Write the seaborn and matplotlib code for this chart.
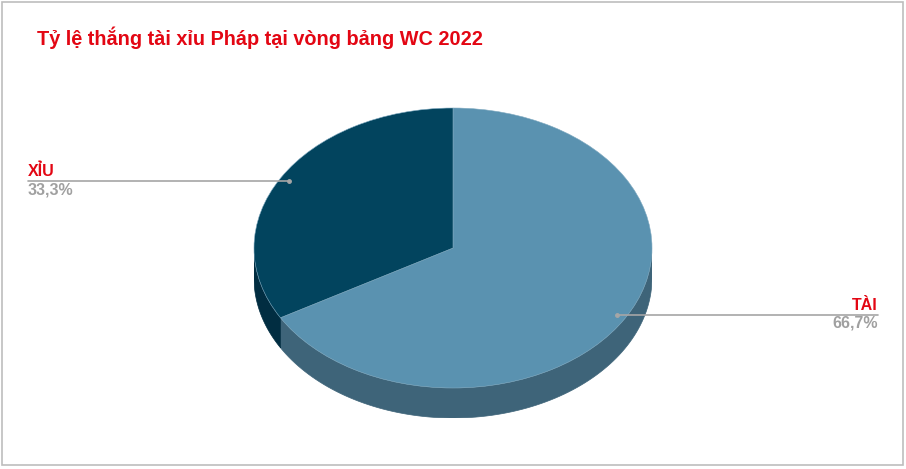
import numpy as np
import seaborn as sns
import matplotlib.pyplot as plt
from matplotlib.patches import Polygon, Rectangle

sns.set_theme(style="white")
plt.rcParams['font.family'] = ['Liberation Sans', 'DejaVu Sans']

title = "Tỷ lệ thắng tài xỉu Pháp tại vòng bảng WC 2022"
labels = ["TÀI", "XỈU"]
values = [66.7, 33.3]
pct_text = ["66,7%", "33,3%"]
top_colors = ["#5A92B0", "#02445E"]
side_colors = ["#3E6479", "#012D41"]

W, H = 906, 469
cx, cy, rx, ry, depth = 453, 248, 199, 140, 30
d = depth / ry

fig = plt.figure(figsize=(W / 100, H / 100), dpi=100)
bg = fig.add_axes([0, 0, 1, 1])
bg.set_xlim(0, W)
bg.set_ylim(H, 0)
bg.axis("off")
bg.add_patch(Rectangle((2, 2), 901, 463, fill=False, edgecolor="#BDBDBD", lw=1.2))

ax = fig.add_axes([(cx - rx) / W, (H - (cy + ry + depth)) / H, 2 * rx / W, (2 * ry + depth) / H])

# angles of the slices (clockwise from 12 o'clock)
total = sum(values)
starts, ends = [], []
a = 90.0
for v in values:
    starts.append(a - 360 * v / total)
    ends.append(a)
    a -= 360 * v / total

# visible outer wall (lower half of the ellipse)
for s, e, col in zip(starts, ends, side_colors):
    for off in (0, 360, -360):
        lo = max(s + off, 180)
        hi = min(e + off, 360)
        if hi <= lo:
            continue
        th = np.radians(np.linspace(lo, hi, 100))
        top = np.column_stack([np.cos(th), np.sin(th)])
        bot = np.column_stack([np.cos(th[::-1]), np.sin(th[::-1]) - d])
        ax.add_patch(Polygon(np.vstack([top, bot]), closed=True, facecolor=col,
                             edgecolor=col, lw=0.5))

wedges, _ = ax.pie(values, colors=top_colors, startangle=90, counterclock=False,
                   radius=1, frame=True,
                   wedgeprops=dict(edgecolor="#7FA9C0", linewidth=0.4))
ax.set_aspect("auto")
ax.set_xlim(-1, 1)
ax.set_ylim(-1 - d, 1)
ax.axis("off")

# overlay for leader lines and labels
ov = fig.add_axes([0, 0, 1, 1])
ov.set_xlim(0, W)
ov.set_ylim(H, 0)
ov.axis("off")
ov.patch.set_alpha(0)

red = "#E30613"
label_x = {"TÀI": 878, "XỈU": 28}
for s, e, lab, pct in zip(starts, ends, labels, pct_text):
    mid = np.radians((s + e) / 2)
    px = cx + 0.95 * rx * np.cos(mid)
    py = cy - 0.95 * ry * np.sin(mid)
    lx = label_x[lab]
    ov.plot([px, lx], [py, py], color="#A6A6A6", lw=1.2)
    ov.plot([px], [py], "o", color="#A6A6A6", ms=2.5)
    ha = "left" if lx < px else "right"
    ov.text(lx, py - 2, lab, color=red, fontsize=11.5, fontweight="bold",
            ha=ha, va="bottom")
    ov.text(lx, py + 1, pct, color="#A0A0A0", fontsize=11.5, fontweight="bold",
            ha=ha, va="top")

ov.text(37, 38, title, color=red, fontsize=14.3, fontweight="bold",
        ha="left", va="center")

fig.savefig("out.png", dpi=100)
